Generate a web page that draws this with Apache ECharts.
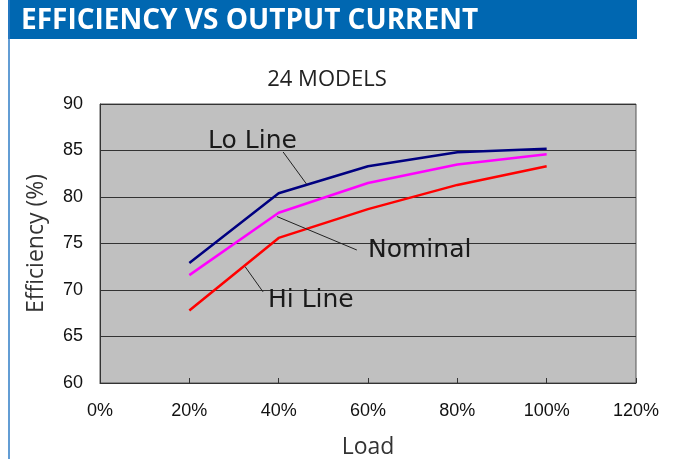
<!DOCTYPE html>
<html><head><meta charset="utf-8">
<script src="https://cdn.jsdelivr.net/npm/echarts@6/dist/echarts.min.js"></script>
<style>html,body{margin:0;padding:0;background:#fff}#c{width:675px;height:459px}</style>
</head><body><div id="c"></div>
<script>
const loads = [20, 40, 60, 80, 100];
const loLine = [72.9, 80.4, 83.3, 84.8, 85.2];
const nominal = [71.6, 78.3, 81.5, 83.5, 84.6];
const hiLine = [67.8, 75.6, 78.7, 81.3, 83.3];
const seriesNames = ['Lo Line', 'Nominal', 'Hi Line'];
const seriesColors = ['#000080', '#FF00FF', '#FF0000'];
// annotation label anchors and leader lines (data coords)
const labelAnchors = [[24.2, 86.0], [60.0, 74.3], [37.6, 68.9]];
const leaders = [
  [[41.0, 84.84], [46.3, 81.35]],
  [[39.6, 77.9], [57.5, 74.3]],
  [[32.5, 72.5], [36.5, 69.8]]
];

const chart = echarts.init(document.getElementById('c'));
const values = [loLine, nominal, hiLine];
const series = values.map((vals, i) => ({
  name: seriesNames[i],
  type: 'line',
  data: loads.map((x, j) => [x, vals[j]]),
  symbol: 'none',
  lineStyle: { color: seriesColors[i], width: 2.5 },
  itemStyle: { color: seriesColors[i] },
  animation: false,
  z: 3,
  markLine: {
    silent: true, symbol: 'none', animation: false,
    lineStyle: { color: '#222', width: 1, type: 'solid' },
    label: { show: false },
    data: [[{ coord: leaders[i][0] }, { coord: leaders[i][1] }]]
  },
  markPoint: {
    silent: true, animation: false, symbol: 'circle', symbolSize: 0,
    data: [{ coord: labelAnchors[i], name: seriesNames[i] }],
    label: {
      show: true, position: 'right', distance: 0, formatter: '{b}',
      color: '#1a1a1a', fontSize: 25, fontFamily: 'DejaVu Sans'
    }
  }
}));

chart.setOption({
  animation: false,
  backgroundColor: '#ffffff',
  title: {
    text: '24 MODELS', left: 322, top: 64, textAlign: 'center',
    textStyle: { fontSize: 22, fontWeight: 'normal', fontFamily: 'Open Sans', color: '#222' }
  },
  graphic: [
    { type: 'rect', shape: { x: 8, y: 0, width: 629, height: 39 }, style: { fill: '#0067B1' }, silent: true },
    { type: 'line', shape: { x1: 9, y1: 0, x2: 9, y2: 459 }, style: { stroke: '#2f7cc6', lineWidth: 1.5 }, silent: true },
    { type: 'text', x: 21, y: 21, style: { text: 'EFFICIENCY VS OUTPUT CURRENT', fill: '#fff', font: 'bold 28px "Open Sans"', textVerticalAlign: 'middle' }, silent: true }
  ],
  grid: {
    left: 100, right: 39, top: 104, bottom: 76, show: true,
    outerBoundsMode: 'none', containLabel: false,
    backgroundColor: '#C0C0C0', borderColor: '#555', borderWidth: 1
  },
  xAxis: {
    type: 'value', min: 0, max: 120, interval: 20,
    name: 'Load', nameLocation: 'middle', nameGap: 53,
    nameTextStyle: { fontSize: 23, fontFamily: 'Open Sans', color: '#333' },
    axisLine: { show: true, lineStyle: { color: '#333' } },
    axisTick: { show: true, inside: true, length: 5, lineStyle: { color: '#333' } },
    splitLine: { show: false },
    axisLabel: { formatter: '{value}%', fontSize: 18, fontFamily: 'Liberation Sans', color: '#111', margin: 19 }
  },
  yAxis: {
    type: 'value', min: 60, max: 90, interval: 5,
    name: 'Efficiency (%)', nameLocation: 'middle', nameGap: 52,
    nameTextStyle: { fontSize: 23, fontFamily: 'Open Sans', color: '#333' },
    axisLine: { show: true, lineStyle: { color: '#333' } },
    axisTick: { show: false },
    splitLine: { show: true, lineStyle: { color: '#333', width: 1 } },
    axisLabel: { fontSize: 18, fontFamily: 'Liberation Sans', color: '#111', margin: 17 }
  },
  series: series
});
</script>
</body></html>
